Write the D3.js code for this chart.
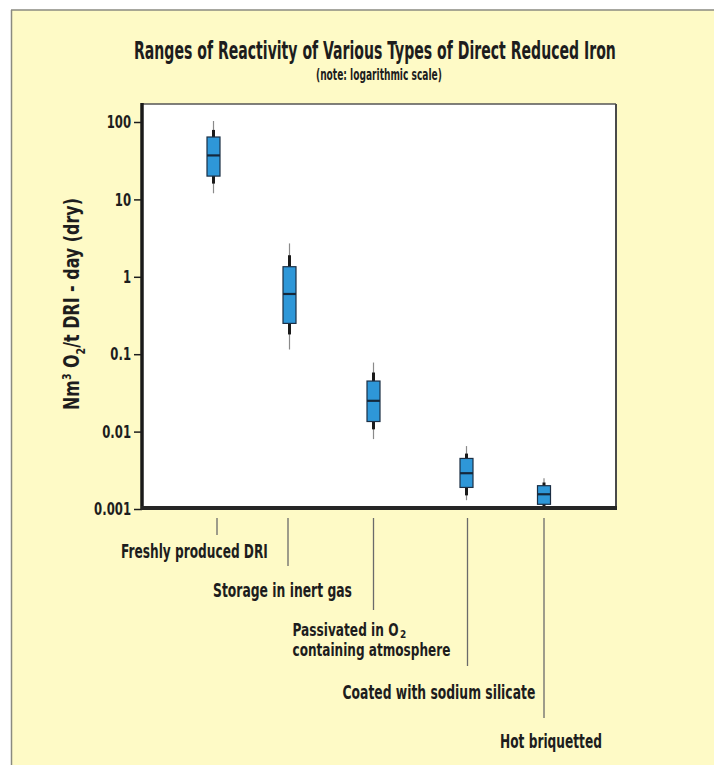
<!DOCTYPE html>
<html>
<head>
<meta charset="utf-8">
<script src="https://cdn.jsdelivr.net/npm/d3@7"></script>
<style>
  html, body { margin: 0; padding: 0; background: #ffffff; }
  svg text { font-family: "Liberation Sans Narrow", "DejaVu Sans Condensed", "Roboto Condensed", "Liberation Sans", sans-serif; font-weight: bold; font-stretch: condensed; fill: #1d1d1d; }
</style>
</head>
<body>
<svg id="chart" width="714" height="765"></svg>
<script>
// ---- data ----
const categories = [
  "Freshly produced DRI",
  "Storage in inert gas",
  "Passivated in O2 containing atmosphere",
  "Coated with sodium silicate",
  "Hot briquetted"
];
const rangeLow   = [12,   0.115, 0.008,  0.0013, 0.001];
const whiskerLow = [16,   0.18,  0.0107, 0.0015, 0.00105];
const boxLow     = [20,   0.25,  0.0135, 0.0019, 0.00115];
const medians    = [37,   0.6,   0.025,  0.0029, 0.00155];
const boxHigh    = [64,   1.35,  0.045,  0.0045, 0.002];
const whiskerHigh= [79,   1.9,   0.058,  0.0052, 0.0022];
const rangeHigh  = [103,  2.7,   0.078,  0.0065, 0.0025];
const yTickValues = [100, 10, 1, 0.1, 0.01, 0.001];
const yTickLabels = ["100", "10", "1", "0.1", "0.01", "0.001"];

const rows = categories.map((c, i) => ({
  cat: c, rl: rangeLow[i], wl: whiskerLow[i], bl: boxLow[i], med: medians[i],
  bh: boxHigh[i], wh: whiskerHigh[i], rh: rangeHigh[i]
}));

// ---- layout ----
const svg = d3.select("#chart");
const plot = { left: 142, right: 616, top: 104, bottom: 508 };

// squeeze a text horizontally to a share of its natural width
function squeeze(sel, k) {
  sel.each(function () {
    const w = this.getComputedTextLength();
    d3.select(this).attr("textLength", w * k).attr("lengthAdjust", "spacingAndGlyphs");
  });
}
// place a text starting at (x0, y0) scaled horizontally to the given width
function fitText(x0, y0, size, str, width) {
  const t = svg.append("text").attr("x", 0).attr("y", 0).attr("font-size", size).text(str);
  const w = t.node().getComputedTextLength();
  t.attr("transform", `translate(${x0},${y0}) scale(${width / w},1)`);
  return t;
}

// page background
svg.append("rect").attr("x", 0).attr("y", 0).attr("width", 714).attr("height", 765).attr("fill", "#ffffff");
svg.append("rect").attr("x", 11).attr("y", 10).attr("width", 703).attr("height", 755).attr("fill", "#fefac6");
svg.append("line").attr("x1", 11).attr("x2", 714).attr("y1", 10).attr("y2", 10).attr("stroke", "#8a8a80").attr("stroke-width", 1.5);
svg.append("line").attr("x1", 11.5).attr("x2", 11.5).attr("y1", 10).attr("y2", 765).attr("stroke", "#8a8a80").attr("stroke-width", 1.5);

// scales
const y = d3.scaleLog().domain([0.001, 100]).range([509, 122]);
const x = d3.scaleOrdinal().domain(categories).range([213.5, 289.5, 373.5, 466.5, 544]);
const boxW = 13;

// plot background + frame
svg.append("rect").attr("x", plot.left).attr("y", plot.top)
  .attr("width", plot.right - plot.left).attr("height", plot.bottom - plot.top)
  .attr("fill", "#ffffff");
svg.append("line").attr("x1", plot.left).attr("x2", plot.right).attr("y1", plot.top).attr("y2", plot.top)
  .attr("stroke", "#555").attr("stroke-width", 1.5);
svg.append("line").attr("x1", plot.right).attr("x2", plot.right).attr("y1", plot.top).attr("y2", plot.bottom)
  .attr("stroke", "#4a4a4a").attr("stroke-width", 2);

// title
fitText(134, 59, 24, "Ranges of Reactivity of Various Types of Direct Reduced Iron", 482);
fitText(316, 80, 15, "(note: logarithmic scale)", 126);

// y axis
const yAxis = d3.axisLeft(y).tickValues(yTickValues)
  .tickFormat((d, i) => yTickLabels[i]).tickSize(8).tickPadding(3);
const gy = svg.append("g").attr("transform", `translate(${plot.left},0)`).call(yAxis);
gy.attr("font-family", null).attr("font-size", null);
gy.select(".domain").remove();
gy.selectAll(".tick line").attr("stroke", "#1d1d1d").attr("stroke-width", 1.5);
gy.selectAll(".tick text").attr("font-size", 18).attr("fill", "#1d1d1d");
squeeze(gy.selectAll(".tick text"), 0.72);

// y-axis title
const yt = svg.append("text").attr("transform", "translate(79,304) rotate(-90)")
  .attr("text-anchor", "middle").attr("font-size", 22);
yt.append("tspan").text("Nm");
yt.append("tspan").attr("font-size", 13).attr("dy", -8).text("3");
yt.append("tspan").attr("dy", 8).text(" O");
yt.append("tspan").attr("font-size", 13).attr("dy", 6).text("2");
yt.append("tspan").attr("dy", -6).text("/t DRI - day (dry)");
yt.attr("textLength", 212).attr("lengthAdjust", "spacingAndGlyphs");

// thick axis lines
svg.append("line").attr("x1", plot.left).attr("x2", plot.left).attr("y1", plot.top - 1).attr("y2", plot.bottom + 2)
  .attr("stroke", "#1a1a1a").attr("stroke-width", 3.5);
svg.append("line").attr("x1", plot.left - 1).attr("x2", plot.right + 1).attr("y1", plot.bottom).attr("y2", plot.bottom)
  .attr("stroke", "#262626").attr("stroke-width", 4);

// boxes
const clipId = "plotclip";
svg.append("clipPath").attr("id", clipId).append("rect")
  .attr("x", plot.left + 2).attr("y", plot.top).attr("width", plot.right - plot.left).attr("height", plot.bottom - plot.top - 2);
const g = svg.append("g").attr("clip-path", `url(#${clipId})`);

const b = g.selectAll("g.box").data(rows).join("g").attr("class", "box");
b.append("line").attr("x1", d => x(d.cat)).attr("x2", d => x(d.cat))
  .attr("y1", d => y(d.rh)).attr("y2", d => y(d.rl))
  .attr("stroke", "#8a8a8a").attr("stroke-width", 1.2);
b.append("line").attr("x1", d => x(d.cat)).attr("x2", d => x(d.cat))
  .attr("y1", d => y(d.wh)).attr("y2", d => y(d.wl))
  .attr("stroke", "#1a1a1a").attr("stroke-width", 3);
b.append("rect").attr("x", d => x(d.cat) - boxW / 2).attr("width", boxW)
  .attr("y", d => y(d.bh)).attr("height", d => y(d.bl) - y(d.bh))
  .attr("fill", "#2e97d8").attr("stroke", "#1c2f45").attr("stroke-width", 1.2);
b.append("line").attr("x1", d => x(d.cat) - boxW / 2).attr("x2", d => x(d.cat) + boxW / 2)
  .attr("y1", d => y(d.med)).attr("y2", d => y(d.med))
  .attr("stroke", "#15283b").attr("stroke-width", 2.2);

// category leader lines and labels
const tickEnds = [535, 566, 610, 666, 718];
const labelBase = [558, 597, 636, 699, 748];
const labelOffset = [-96, -75, -81, -125, -44];
const labelLen = [147, 139, 106, 193, 102];
const leaderShift = [3.5, -1.5, 0, 1, 0];
categories.forEach((c, i) => {
  const cx = x(c) + leaderShift[i];
  svg.append("line").attr("x1", cx).attr("x2", cx).attr("y1", 518).attr("y2", tickEnds[i])
    .attr("stroke", "#6a6a6a").attr("stroke-width", 1.3);
  if (i === 2) {
    const x0 = cx + labelOffset[i];
    fitText(x0, labelBase[i], 17, "Passivated in O", labelLen[i]);
    svg.append("text").attr("x", x0 + labelLen[i] + 1.5).attr("y", labelBase[i] + 1.5)
      .attr("font-size", 10).text("2");
    fitText(x0, labelBase[i] + 20, 17, "containing atmosphere", 158);
  } else {
    fitText(cx + labelOffset[i], labelBase[i], 20, c, labelLen[i]);
  }
});
</script>
</body>
</html>
